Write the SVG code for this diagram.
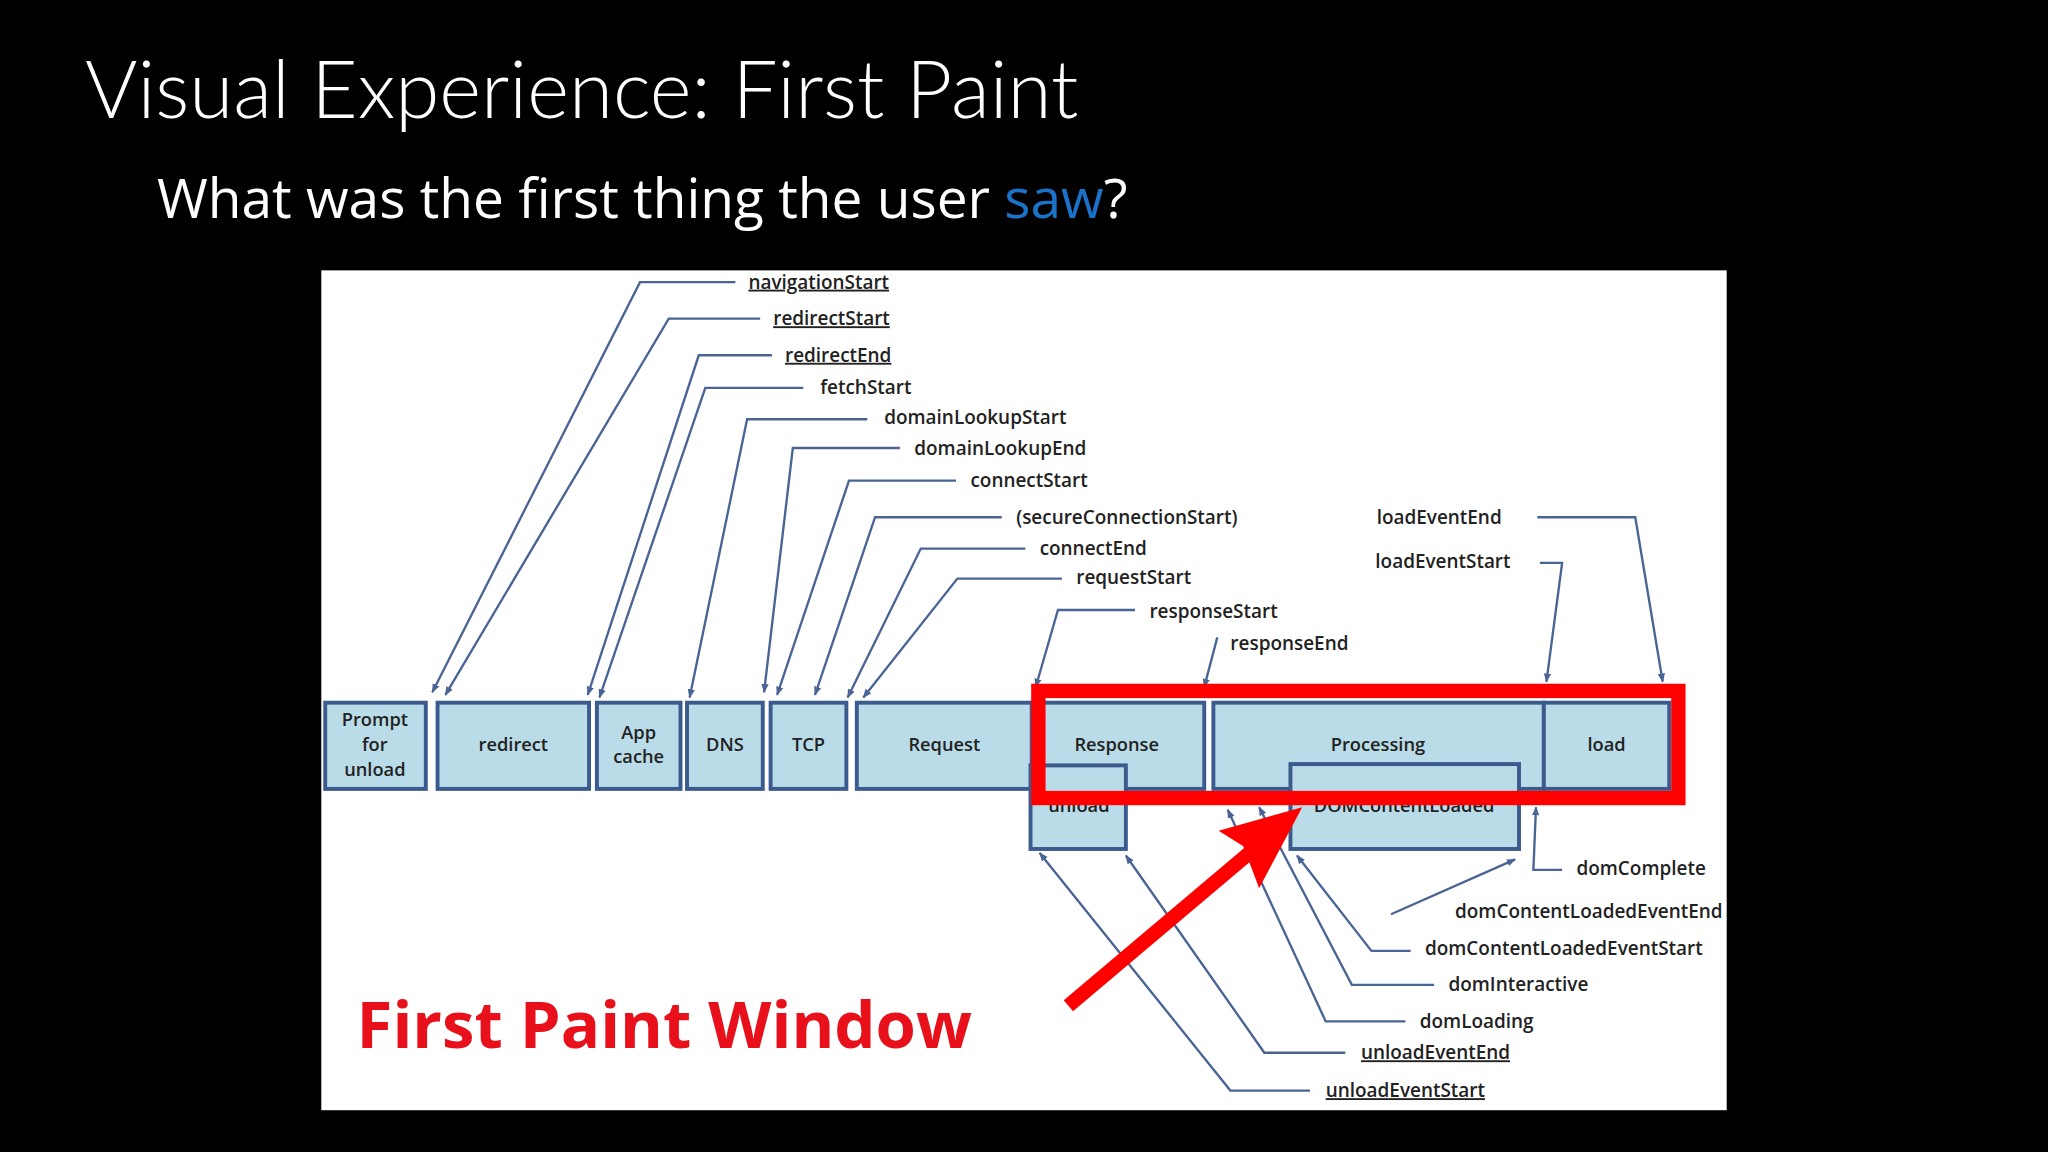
<svg xmlns="http://www.w3.org/2000/svg" width="2048" height="1152" viewBox="0 0 2048 1152">
<defs>
<style>
.b{fill:#b9dce8;stroke:#3b5a8e;stroke-width:3}
.bt{font-family:"Open Sans",sans-serif;font-weight:600;font-size:14px;fill:#222;text-anchor:middle}
.lb{font-family:"Open Sans",sans-serif;font-weight:600;font-size:14.5px;fill:#222}
.u{text-decoration:underline}
.ln{fill:none;stroke:#4a6496;stroke-width:1.8;marker-end:url(#a)}
</style>
<marker id="a" viewBox="0 0 10 10" refX="9" refY="5" markerWidth="7" markerHeight="7" orient="auto" markerUnits="userSpaceOnUse"><path d="M0,1 L10,5 L0,9 z" fill="#4a6496"/></marker>
</defs>
<rect width="2048" height="1152" fill="#000"/>
<text x="85" y="118" font-family="Lato,sans-serif" font-weight="300" font-size="80" fill="#fff">Visual Experience: First Paint</text>
<text x="157" y="218" font-family="'Open Sans',sans-serif" font-size="55" fill="#fff">What was the first thing the user <tspan fill="#1a73c8">saw</tspan>?</text>
<g transform="scale(1.30612)">
<rect x="246" y="207" width="1076" height="643" fill="#fff"/>
<g id="connectors">
<path class="ln" d="M563,216 H490 L331,530"/>
<path class="ln" d="M582,244 H512 L341,532"/>
<path class="ln" d="M591,272 H535 L450,532"/>
<path class="ln" d="M615,297 H540 L459,534"/>
<path class="ln" d="M664,321 H572 L528,534"/>
<path class="ln" d="M689,343 H607 L585,530"/>
<path class="ln" d="M732,368 H650 L595,532"/>
<path class="ln" d="M767,396 H670 L624,532"/>
<path class="ln" d="M785,420 H705 L649,534"/>
<path class="ln" d="M813,443 H733 L661,534"/>
<path class="ln" d="M869,467 H810 L793,526"/>
<path class="ln" d="M932,488 L922,526"/>
<path class="ln" d="M1177,396 H1252 L1273,522"/>
<path class="ln" d="M1179,431 H1196 L1184,522"/>
<path class="ln" d="M1196,666 H1174 L1176,618"/>
<path class="ln" d="M1065,700 L1160,658"/>
<path class="ln" d="M1080,728 H1050 L993,655"/>
<path class="ln" d="M1098,754 H1035 L964,618"/>
<path class="ln" d="M1076,782 H1015 L940,620"/>
<path class="ln" d="M1030,806 H968 L862,655"/>
<path class="ln" d="M1003,835 H942 L796,653"/>
</g>
<g id="prompt"><rect class="b" x="249" y="538" width="77" height="66"/><text class="bt" x="287" y="556">Prompt</text><text class="bt" x="287" y="575">for</text><text class="bt" x="287" y="594">unload</text></g>
<g id="redirect"><rect class="b" x="335" y="538" width="116" height="66"/><text class="bt" x="393" y="575">redirect</text></g>
<g id="appcache"><rect class="b" x="457" y="538" width="64" height="66"/><text class="bt" x="489" y="566">App</text><text class="bt" x="489" y="584">cache</text></g>
<g id="dns"><rect class="b" x="526" y="538" width="58" height="66"/><text class="bt" x="555" y="575">DNS</text></g>
<g id="tcp"><rect class="b" x="590" y="538" width="58" height="66"/><text class="bt" x="619" y="575">TCP</text></g>
<g id="request"><rect class="b" x="656" y="538" width="134" height="66"/><text class="bt" x="723" y="575">Request</text></g>
<g id="response"><rect class="b" x="790" y="538" width="132" height="66"/><text class="bt" x="855" y="575">Response</text></g>
<g id="processing"><rect class="b" x="929" y="538" width="253" height="66"/><text class="bt" x="1055" y="575">Processing</text></g>
<g id="load"><rect class="b" x="1182" y="538" width="96" height="66"/><text class="bt" x="1230" y="575">load</text></g>
<g id="unload"><rect class="b" x="789" y="586" width="73" height="64"/><text class="bt" x="826" y="622">unload</text></g>
<g id="dcl"><rect class="b" x="988" y="585" width="175" height="65"/><text class="bt" x="1075" y="622">DOMContentLoaded</text></g>
<g id="labels">
<text class="lb u" x="573" y="221">navigationStart</text>
<text class="lb u" x="592" y="249">redirectStart</text>
<text class="lb u" x="601" y="277">redirectEnd</text>
<text class="lb" x="628" y="302">fetchStart</text>
<text class="lb" x="677" y="325">domainLookupStart</text>
<text class="lb" x="700" y="348">domainLookupEnd</text>
<text class="lb" x="743" y="373">connectStart</text>
<text class="lb" x="778" y="401">(secureConnectionStart)</text>
<text class="lb" x="796" y="425">connectEnd</text>
<text class="lb" x="824" y="447">requestStart</text>
<text class="lb" x="880" y="473">responseStart</text>
<text class="lb" x="942" y="498">responseEnd</text>
<text class="lb" x="1054" y="401">loadEventEnd</text>
<text class="lb" x="1053" y="435">loadEventStart</text>
<text class="lb" x="1207" y="670">domComplete</text>
<text class="lb" x="1114" y="703">domContentLoadedEventEnd</text>
<text class="lb" x="1091" y="731">domContentLoadedEventStart</text>
<text class="lb" x="1109" y="759">domInteractive</text>
<text class="lb" x="1087" y="787">domLoading</text>
<text class="lb u" x="1042" y="811">unloadEventEnd</text>
<text class="lb u" x="1015" y="840">unloadEventStart</text>
</g>
<g id="firstpaint">
<rect x="795" y="529" width="490" height="82" fill="none" stroke="#f00" stroke-width="11"/>
<path d="M818,770 L972,640" stroke="#f00" stroke-width="11" fill="none"/>
<path d="M997,618 L933,636 L952,648 L964,680 z" fill="#f00"/>
<text x="273" y="802" font-family="'Open Sans',sans-serif" font-weight="700" font-size="50" fill="#e8101a">First Paint Window</text>
</g>
</g>
</svg>
